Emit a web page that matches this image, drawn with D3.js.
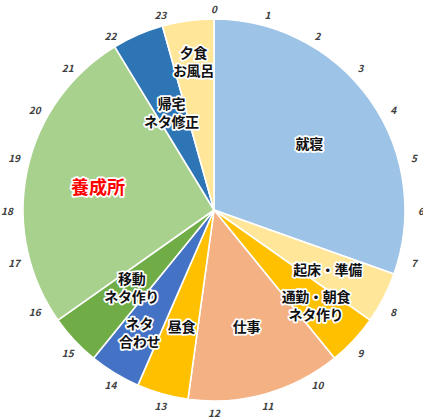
<!DOCTYPE html>
<html>
<head>
<meta charset="utf-8">
<script src="https://cdn.jsdelivr.net/npm/d3@7"></script>
<style>
    html, body { margin: 0; padding: 0; background: #fff; }
    svg { display: block; }
</style>
</head>
<body>
<svg id="chart"></svg>
<script>
// slices, clockwise from the top
const activities = ["就寝", "起床・準備", "通勤・朝食\nネタ作り", "仕事", "昼食", "ネタ\n合わせ", "移動\nネタ作り", "養成所", "帰宅\nネタ修正", "夕食\nお風呂"]
const hours = [7, 1, 1, 3, 1, 1, 1, 6, 1, 1]
const sliceColors = ["#9dc3e6", "#ffe699", "#ffc000", "#f4b183", "#ffc000", "#4472c4", "#70ad47", "#a9d18e", "#2e75b6", "#ffe699"]
const clockTicks = ["0", "1", "2", "3", "4", "5", "6", "7", "8", "9", "10", "11", "12", "13", "14", "15", "16", "17", "18", "19", "20", "21", "22", "23"]

let config = {
    width: 423,
    height: 419,
    cx: 214,
    cy: 210,
    radius: 191,
    tickRx: 207,
    tickRy: 202,
    font: "'Noto Sans CJK JP', 'Noto Sans', sans-serif",
    // how far out along each slice the label sits (fraction of radius)
    labelRadius: [0.61, 0.67, 0.73, 0.63, 0.63, 0.75, 0.59, 0.62, 0.56, 0.79],
    highlight: "養成所"
}

const svg = d3.select("svg#chart")
    .attr("width", config.width)
    .attr("height", config.height)

const chart = svg.append("g")
    .attr("transform", `translate(${config.cx},${config.cy})`)

const pie = d3.pie().sort(null).value(d => d)
const slices = pie(hours)
const arc = d3.arc().innerRadius(0).outerRadius(config.radius)

chart.selectAll("path.slice")
    .data(slices)
    .join("path")
    .attr("class", "slice")
    .attr("d", arc)
    .style("fill", (d, i) => sliceColors[i])
    .style("stroke", "#fff")
    .style("stroke-width", 1.6)
    .style("stroke-linejoin", "round")

// clock hours round the outside
const hourAngle = d3.scaleLinear().domain([0, clockTicks.length]).range([0, 2 * Math.PI])
chart.selectAll("text.hour")
    .data(clockTicks)
    .join("text")
    .attr("class", "hour")
    .attr("x", (d, i) => config.tickRx * Math.sin(hourAngle(i)))
    .attr("y", (d, i) => -config.tickRy * Math.cos(hourAngle(i)))
    .attr("text-anchor", "middle")
    .attr("dominant-baseline", "central")
    .text(d => d)
    .style("font-family", config.font)
    .style("font-size", "10px")
    .style("font-weight", "bold")
    .style("font-style", "italic")
    .style("fill", "#404040")

// slice labels, white outlined
const labels = chart.selectAll("g.label")
    .data(slices)
    .join("g")
    .attr("class", "label")
    .attr("transform", (d, i) => {
        const r = config.radius * config.labelRadius[i]
        const c = d3.arc().innerRadius(r).outerRadius(r).centroid(d)
        return `translate(${c[0]},${c[1]})`
    })

labels.each(function (d, i) {
    const big = activities[i] === config.highlight
    const lines = activities[i].split("\n")
    const lineHeight = 18
    d3.select(this).selectAll("text")
        .data(lines)
        .join("text")
        .attr("y", (l, j) => (j - (lines.length - 1) / 2) * lineHeight)
        .attr("text-anchor", "middle")
        .attr("dominant-baseline", "central")
        .text(l => l)
        .style("font-family", config.font)
        .style("font-size", big ? "18px" : "14px")
        .style("font-weight", "bold")
        .style("letter-spacing", big ? "0px" : "-0.3px")
        .style("fill", big ? "#ff0000" : "#111")
        .style("stroke", "#fff")
        .style("stroke-width", 3.5)
        .style("stroke-linejoin", "round")
        .style("paint-order", "stroke")
})
</script>
</body>
</html>
